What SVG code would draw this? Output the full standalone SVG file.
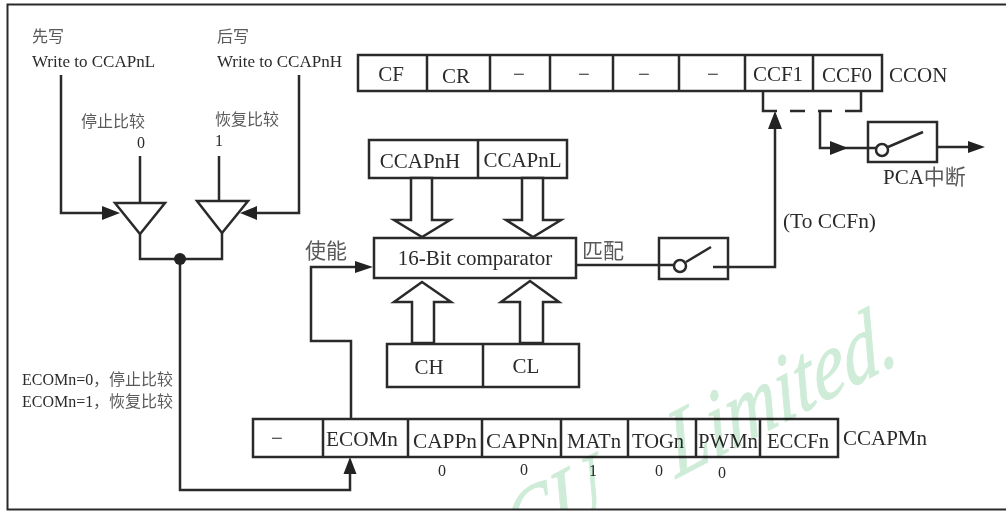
<svg xmlns="http://www.w3.org/2000/svg" width="1006" height="511" viewBox="0 0 1006 511">
<defs><clipPath id="fr"><rect x="8" y="5" width="998" height="504"/></clipPath></defs>
<style>
text{font-family:"Liberation Serif","Noto Sans CJK SC",serif;fill:#2a2a2a}
.b{font-size:21px}.s{font-size:17px}.x{font-size:16px}
.m{text-anchor:middle}
.cj{fill:#5a5a5a}
.box{fill:#fff;stroke:#2a2a2a;stroke-width:2.5}
.w{fill:none;stroke:#2a2a2a;stroke-width:2.5}
.h{fill:#fff;stroke:#2a2a2a;stroke-width:2.5}
.a{fill:#222}
.wm{font-size:92px;font-style:italic;fill:#cfecd8;stroke:#cfecd8;stroke-width:1;text-anchor:end;word-spacing:70px}
</style>
<rect width="1006" height="511" fill="#fff"/>
<path d="M1006 4.500H7.500V509.500H1006" fill="none" stroke="#2a2a2a" stroke-width="2"/>
<g id="connectors">
<path class="w" d="M61 75V213H104M299 75V213H255M140 156V203M219 156V201M140 234V259H222V233M180 259V490H350V472M351 418V341H311V267H357"/>
<path class="w" d="M763 91V111H777M790 111H805M818 111H832M845 111H861V91"/>
<path class="w" d="M576 265H674M713 267H775V127M820 111V148H876M937 147H970"/>
<path class="a" d="M120 213L102 206V220ZM240 213L257 206V220ZM373 267L355 261V273ZM350 457L343.500 474H356.500ZM775 111L768 129H782ZM848 148L830 141V155ZM985 147L968 141V153Z"/>
<circle class="a" cx="180" cy="259" r="6"/>
</g>
<g id="tri-left"><path class="h" d="M115 203H165L140 234Z"/></g>
<g id="tri-right"><path class="h" d="M197 201H248L222 233Z"/></g>
<g id="ccon">
<rect class="box" x="358" y="55" width="524" height="36"/>
<path class="w" stroke-width="1.500" d="M427 55V91M490 55V91M550 55V91M613 55V91M679 55V91M745 55V91M813 55V91"/>
<text class="b m" x="391" y="81">CF</text><text class="b m" x="456" y="83">CR</text>
<text class="b m" x="519" y="81">−</text><text class="b m" x="584" y="81">−</text><text class="b m" x="644" y="81">−</text><text class="b m" x="713" y="81">−</text>
<text class="b m" x="778" y="81">CCF1</text><text class="b m" x="847" y="82">CCF0</text>
<text class="b" x="889" y="82">CCON</text>
</g>
<g id="ccap">
<rect class="box" x="369" y="140" width="198" height="38"/><path class="w" d="M478 140V178"/>
<text class="b m" x="420" y="168">CCAPnH</text><text class="b m" x="522.500" y="167">CCAPnL</text>
</g>
<g id="hollow-arrows">
<path class="h" d="M411 178V220H394L422 237L450 220H432V178ZM522 178V220H506L533 237L561 220H543V178ZM412 343V302H394L422 282L451 302H434V343ZM520 343V302H501L530 281L559 302H543V343Z"/>
</g>
<g id="comparator">
<rect class="box" x="374" y="238" width="202" height="40"/>
<text class="b m" x="475" y="265">16-Bit comparator</text>
</g>
<g id="counter">
<rect class="box" x="387" y="344" width="192" height="43"/><path class="w" d="M483 344V387"/>
<text class="b m" x="429" y="374">CH</text><text class="b m" x="526" y="373">CL</text>
</g>
<g id="switch1">
<rect class="box" x="659" y="238" width="69" height="41"/>
<path class="w" d="M659 265H674M713 267H728M686 262L711 247"/>
<circle class="h" cx="680" cy="266" r="6"/>
</g>
<g id="switch2">
<rect class="box" x="868" y="122" width="69" height="40"/>
<path class="w" d="M868 148H876M888 147L923 132"/>
<circle class="h" cx="882" cy="150" r="6"/>
<text class="b" x="883" y="184">PCA<tspan class="cj">中断</tspan></text>
</g>
<g id="ccapm">
<rect class="box" x="253" y="419" width="585" height="38"/>
<path class="w" d="M323 419V457M408 419V457M482 419V457M561 419V457M628 419V457M696 419V457M760 419V457"/>
<text class="b m" x="277" y="445">−</text>
<text class="b m" x="362" y="446" textLength="72" lengthAdjust="spacingAndGlyphs">ECOMn</text><text class="b m" x="445" y="448" textLength="64" lengthAdjust="spacingAndGlyphs">CAPPn</text><text class="b m" x="522" y="448" textLength="72" lengthAdjust="spacingAndGlyphs">CAPNn</text><text class="b m" x="594" y="448" textLength="54" lengthAdjust="spacingAndGlyphs">MATn</text><text class="b m" x="658" y="448" textLength="52" lengthAdjust="spacingAndGlyphs">TOGn</text><text class="b m" x="728" y="448" textLength="60" lengthAdjust="spacingAndGlyphs">PWMn</text><text class="b m" x="798" y="448" textLength="62" lengthAdjust="spacingAndGlyphs">ECCFn</text>
<text class="b" x="843" y="445">CCAPMn</text>
<text class="x m" x="442" y="476">0</text><text class="x m" x="524" y="475">0</text><text class="x m" x="593" y="476">1</text><text class="x m" x="659" y="476">0</text><text class="x m" x="722" y="478">0</text>
</g>
<g id="labels">
<text class="x cj" x="32" y="42">先写</text><text class="x cj" x="217" y="42">后写</text>
<text class="s" x="32" y="67">Write to CCAPnL</text><text class="s" x="217" y="67">Write to CCAPnH</text>
<text class="x cj" x="81" y="127">停止比较</text><text class="x cj" x="215" y="125">恢复比较</text>
<text class="x" x="137" y="148">0</text><text class="x" x="215" y="146">1</text>
<text class="b cj" x="305" y="258">使能</text><text class="b cj" x="582" y="258">匹配</text>
<text class="b" x="783" y="228" textLength="93" lengthAdjust="spacingAndGlyphs">(To CCFn)</text>
<text class="x" x="22" y="385" textLength="151" lengthAdjust="spacingAndGlyphs">ECOMn=0<tspan class="cj">，停止比较</tspan></text><text class="x" x="22" y="407" textLength="151" lengthAdjust="spacingAndGlyphs">ECOMn=1<tspan class="cj">，恢复比较</tspan></text>
</g>
<g clip-path="url(#fr)" style="mix-blend-mode:multiply">
<text class="wm" transform="translate(900,362) rotate(-27.500) skewX(-15) scale(.83,1)">CU Limited.</text>
</g>
</svg>
